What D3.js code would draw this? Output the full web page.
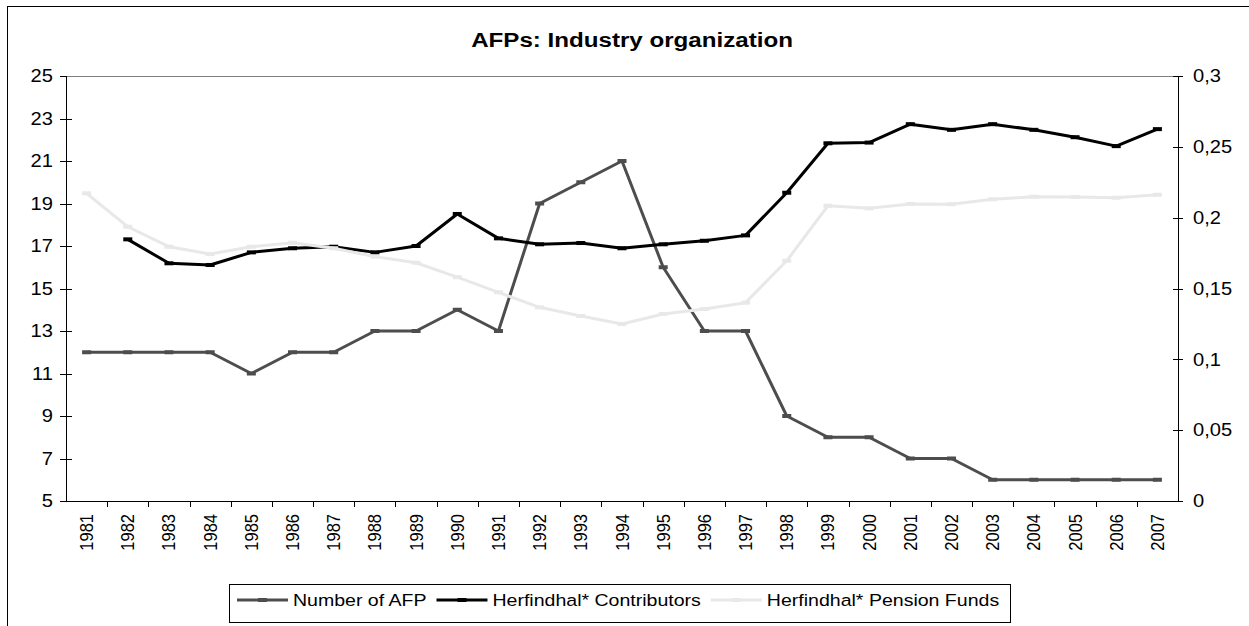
<!DOCTYPE html>
<html>
<head>
<meta charset="utf-8">
<script src="https://cdn.jsdelivr.net/npm/d3@7"></script>
<style>
  body { margin: 0; background: #fff; }
  text { font-family: "Liberation Sans", Arial, sans-serif; fill: #000; }
</style>
</head>
<body>
<div id="chart-container"></div>
<script>
// Data
const years = d3.range(1981, 2008).map(String);
const numberOfAfp = [12, 12, 12, 12, 11, 12, 12, 13, 13, 14, 13, 19, 20, 21, 16, 13, 13, 9, 8, 8, 7, 7, 6, 6, 6, 6, 6];
const herfContributors = [null, 0.1847, 0.1678, 0.1666, 0.1755, 0.1784, 0.1795, 0.1755, 0.1800, 0.2026, 0.1854, 0.1812, 0.1821, 0.1784, 0.1812, 0.1837, 0.1875, 0.2176, 0.2525, 0.2530, 0.2660, 0.2620, 0.2660, 0.2620, 0.2568, 0.2505, 0.2625];
const herfPensionFunds = [0.2172, 0.1936, 0.1795, 0.1743, 0.1795, 0.1823, 0.1784, 0.1725, 0.1682, 0.1580, 0.1473, 0.1367, 0.1306, 0.1249, 0.1320, 0.1355, 0.1400, 0.1696, 0.2084, 0.2066, 0.2097, 0.2095, 0.2130, 0.2148, 0.2146, 0.2141, 0.2162];
const leftTicks = [5, 7, 9, 11, 13, 15, 17, 19, 21, 23, 25];
const rightTicks = [0, 0.05, 0.1, 0.15, 0.2, 0.25, 0.3];
const rightTickLabels = ["0", "0,05", "0,1", "0,15", "0,2", "0,25", "0,3"];

const seriesList = [
  { name: "Number of AFP", values: numberOfAfp, axis: "left", color: "#4d4d4d" },
  { name: "Herfindhal* Contributors", values: herfContributors, axis: "right", color: "#000000" },
  { name: "Herfindhal* Pension Funds", values: herfPensionFunds, axis: "right", color: "#e8e8e8" }
];

const width = 1249;
const height = 626;
const plot = { left: 66, right: 1178, top: 76, bottom: 501 };
const stretch = "scale(1.15,1)";

const svg = d3.select("#chart-container")
  .append("svg")
  .attr("width", width)
  .attr("height", height);

// Outer chart frame (runs off the right and bottom of the picture)
svg.append("rect")
  .attr("x", 7.5).attr("y", 6.5)
  .attr("width", width + 20).attr("height", height + 20)
  .attr("fill", "none").attr("stroke", "#000").attr("stroke-width", 1);

// Scales
const x = d3.scaleBand().domain(years).range([plot.left, plot.right]);
const yLeft = d3.scaleLinear().domain([5, 25]).range([plot.bottom, plot.top]);
const yRight = d3.scaleLinear().domain([0, 0.3]).range([plot.bottom, plot.top]);
const cx = d => x(d) + x.bandwidth() / 2;

// Title
svg.append("text")
  .attr("transform", `translate(632,46.5) ${stretch}`)
  .attr("text-anchor", "middle")
  .style("font-size", "21px")
  .style("font-weight", "bold")
  .text("AFPs: Industry organization");

// Top gridline
svg.append("line")
  .attr("x1", plot.left).attr("x2", plot.right)
  .attr("y1", yLeft(25) + 0.5).attr("y2", yLeft(25) + 0.5)
  .attr("stroke", "#808080").attr("stroke-width", 1);

// Left axis
const leftAxis = svg.append("g");
leftAxis.append("line")
  .attr("x1", plot.left + 0.5).attr("x2", plot.left + 0.5)
  .attr("y1", plot.top).attr("y2", plot.bottom)
  .attr("stroke", "#000");
leftAxis.selectAll("line.tick")
  .data(leftTicks)
  .enter().append("line")
  .attr("class", "tick")
  .attr("x1", plot.left - 6).attr("x2", d => d === 25 ? plot.left : plot.left + 6)
  .attr("y1", d => Math.round(yLeft(d)) + 0.5).attr("y2", d => Math.round(yLeft(d)) + 0.5)
  .attr("stroke", "#000");
leftAxis.selectAll("text")
  .data(leftTicks)
  .enter().append("text")
  .attr("transform", d => `translate(53,${yLeft(d) + 6.3}) ${stretch}`)
  .attr("text-anchor", "end")
  .style("font-size", "17.5px")
  .text(d => d);

// Right axis
const rightAxis = svg.append("g");
rightAxis.append("line")
  .attr("x1", plot.right + 0.5).attr("x2", plot.right + 0.5)
  .attr("y1", plot.top).attr("y2", plot.bottom)
  .attr("stroke", "#000");
rightAxis.selectAll("line.tick")
  .data(rightTicks)
  .enter().append("line")
  .attr("class", "tick")
  .attr("x1", plot.right - 5).attr("x2", plot.right + 5)
  .attr("y1", d => Math.round(yRight(d)) + 0.5).attr("y2", d => Math.round(yRight(d)) + 0.5)
  .attr("stroke", "#000");
rightAxis.selectAll("text")
  .data(rightTicks)
  .enter().append("text")
  .attr("transform", d => `translate(1193,${yRight(d) + 6.3}) ${stretch}`)
  .style("font-size", "17.5px")
  .text((d, i) => rightTickLabels[i]);

// Bottom axis
const bottomAxis = svg.append("g");
bottomAxis.append("line")
  .attr("x1", plot.left - 6).attr("x2", plot.right + 5)
  .attr("y1", plot.bottom + 0.5).attr("y2", plot.bottom + 0.5)
  .attr("stroke", "#000");
bottomAxis.selectAll("line.tick")
  .data(years.slice(1))
  .enter().append("line")
  .attr("class", "tick")
  .attr("x1", d => Math.round(x(d)) + 0.5).attr("x2", d => Math.round(x(d)) + 0.5)
  .attr("y1", plot.bottom).attr("y2", plot.bottom + 6)
  .attr("stroke", "#000");
bottomAxis.selectAll("text")
  .data(years)
  .enter().append("text")
  .attr("transform", d => `translate(${cx(d) + 6.5},514) ${stretch} rotate(-90)`)
  .attr("text-anchor", "end")
  .style("font-size", "16.5px")
  .text(d => d);

// Series lines and dash markers
seriesList.forEach(s => {
  const y = s.axis === "left" ? yLeft : yRight;
  const points = years.map((yr, i) => ({ yr, v: s.values[i] })).filter(p => p.v !== null);
  const line = d3.line().x(p => cx(p.yr)).y(p => y(p.v));
  const g = svg.append("g");
  g.append("path")
    .datum(points)
    .attr("d", line)
    .attr("fill", "none")
    .attr("stroke", s.color)
    .attr("stroke-width", 3)
    .attr("stroke-linejoin", "round");
  g.selectAll("rect")
    .data(points)
    .enter().append("rect")
    .attr("x", p => cx(p.yr) - 4.5)
    .attr("y", p => y(p.v) - 2)
    .attr("width", 9).attr("height", 4)
    .attr("fill", s.color);
});

// Legend
const legend = svg.append("g");
legend.append("rect")
  .attr("x", 229.5).attr("y", 584.5)
  .attr("width", 781).attr("height", 38)
  .attr("fill", "#fff").attr("stroke", "#000");

let lx = 237;
seriesList.forEach(s => {
  const item = legend.append("g");
  item.append("line")
    .attr("x1", lx).attr("x2", lx + 51)
    .attr("y1", 600).attr("y2", 600)
    .attr("stroke", s.color).attr("stroke-width", 3);
  item.append("rect")
    .attr("x", lx + 21).attr("y", 598)
    .attr("width", 9).attr("height", 4)
    .attr("fill", s.color);
  const t = item.append("text")
    .attr("transform", `translate(${lx + 56},606) ${stretch}`)
    .style("font-size", "17px")
    .text(s.name);
  lx = lx + 56 + t.node().getComputedTextLength() * 1.15 + 10;
});
</script>
</body>
</html>
